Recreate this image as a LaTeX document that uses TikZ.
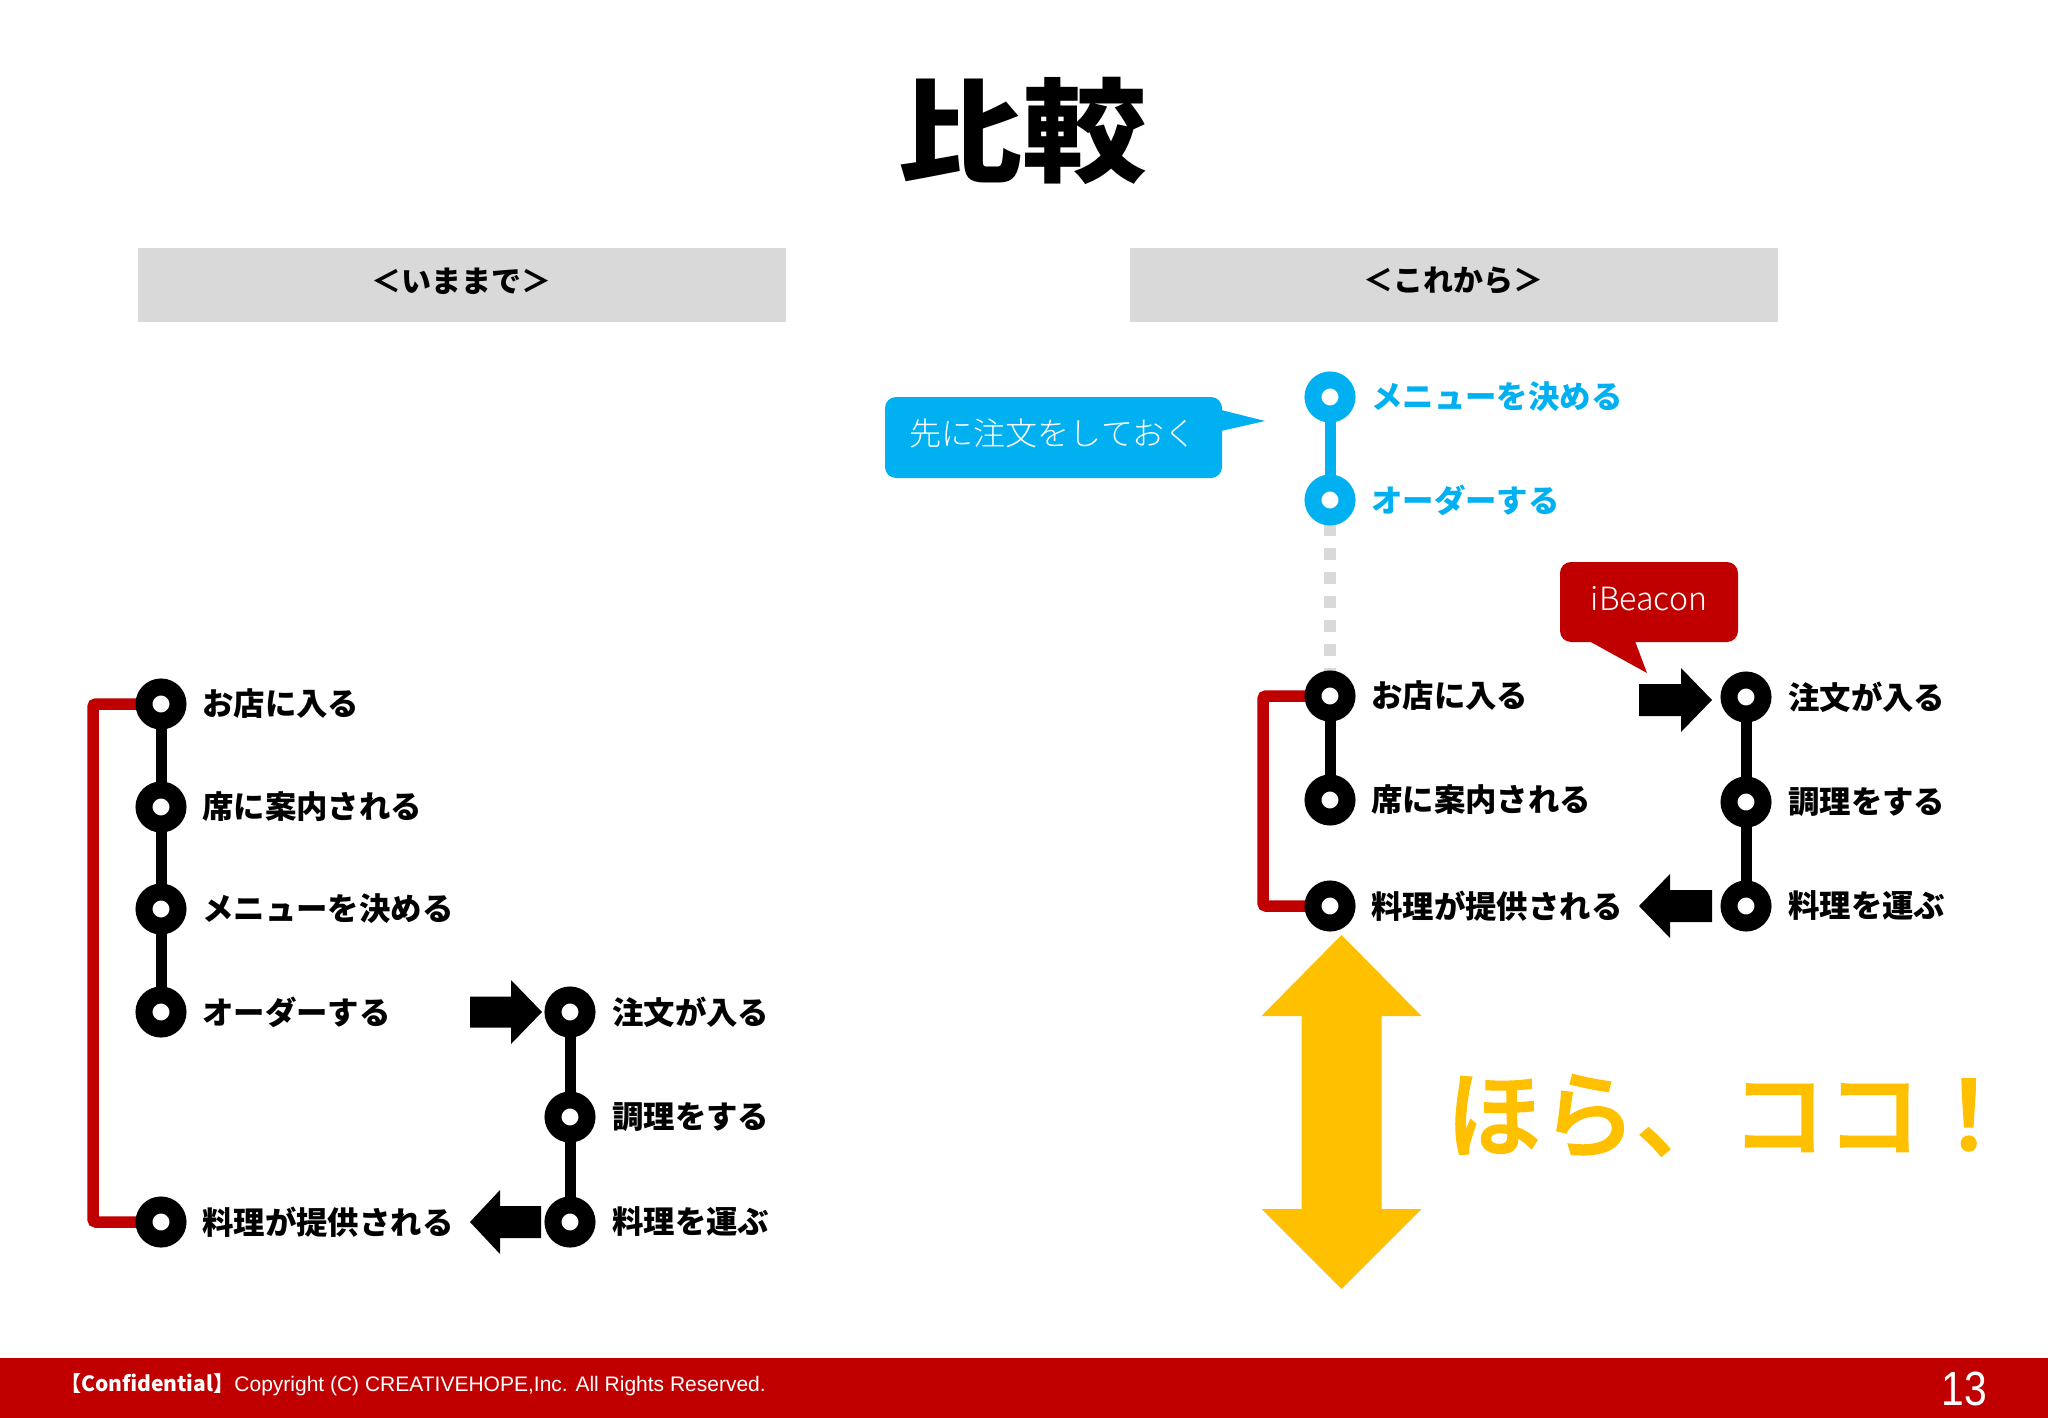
\documentclass[tikz,border=0pt]{standalone}
\usepackage{fontspec}
\setmainfont{Noto Sans CJK JP}
\newfontfamily\jpblack{Noto Sans CJK JP}[UprightFont=* Black,BoldFont=* Black]
\newfontfamily\jpmedium{Noto Sans CJK JP}[UprightFont=* Medium,RawFeature={embolden=2}]
\newfontfamily\jplight{Noto Sans CJK JP}[UprightFont=* Light]
\newfontfamily\arialfont{Liberation Sans}
\definecolor{hdrgray}{HTML}{D9D9D9}
\definecolor{cred}{HTML}{C00000}
\definecolor{cblue}{HTML}{00B0F0}
\definecolor{cgold}{HTML}{FFC000}
\definecolor{dotgray}{HTML}{D9D9DC}
\newcommand{\fs}[1]{\fontsize{#1pt}{#1pt}\selectfont}
\tikzset{
 x=1pt,y=-1pt,
 stationb/.style={circle,draw=black,line width=17pt,fill=white,minimum size=34pt,inner sep=0pt},
 stationc/.style={stationb,draw=cblue},
 lab/.style={anchor=west,inner sep=0pt,font=\fs{31.4}\bfseries,text=black},
 labc/.style={lab,text=cblue},
 trackb/.style={line width=11pt,black},
 trackc/.style={line width=11pt,cblue},
 trackr/.style={line width=11.5pt,cred,rounded corners=3pt},
 trackd/.style={line width=12pt,dotgray,dash pattern=on 12pt off 12pt},
 hdr/.style={fill=hdrgray,draw=none,minimum width=648pt,minimum height=74pt,inner sep=0pt},
 hdrtxt/.style={font=\fs{30}\bfseries,text=black,inner sep=0pt},
 flow/.style={fill=black,draw=none},
 calltxt/.style={text=white,font=\fs{32}\jplight,inner sep=0pt}
}
\begin{document}
\begin{tikzpicture}
\useasboundingbox (0,0) rectangle (2048,1418);
\fill[white] (0,0) rectangle (2048,1418);
% title
\node[inner sep=0pt,font=\fs{125}\jpblack,text=black] (title) at (1022,131) {\scalebox{1}[0.9]{比較}};
% headers
\node[hdr] (hl) at (462,285) {};
\node[hdr] (hr) at (1454,285) {};
\node[hdrtxt] (hlt) at (461,281) {＜いままで＞};
\node[hdrtxt] (hrt) at (1453,281) {＜これから＞};
% left coordinates
\coordinate (La) at (161,704);
\coordinate (Lb) at (161,807);
\coordinate (Lc) at (161,909);
\coordinate (Ld) at (161,1012);
\coordinate (Le) at (161,1222);
\coordinate (Lf) at (570,1012);
\coordinate (Lg) at (570,1117);
\coordinate (Lh) at (570,1222);
\draw[trackr] (La) -- (93,704) -- (93,1222) -- (Le);
\draw[trackb] (La) -- (Ld);
\draw[trackb] (Lf) -- (Lh);
\node[stationb] (la) at (La) {};
\node[stationb] (lb) at (Lb) {};
\node[stationb] (lc) at (Lc) {};
\node[stationb] (ld) at (Ld) {};
\node[stationb] (le) at (Le) {};
\node[stationb] (lf) at (Lf) {};
\node[stationb] (lg) at (Lg) {};
\node[stationb] (lh) at (Lh) {};
\node[lab] (lta) at (202,704) {お店に入る};
\node[lab] (ltb) at (202,807) {席に案内される};
\node[lab] (ltc) at (202,909) {メニューを決める};
\node[lab] (ltd) at (202,1012) {オーダーする};
\node[lab] (lte) at (202,1222) {料理が提供される};
\node[lab] (ltf) at (612,1012) {注文が入る};
\node[lab] (ltg) at (612,1117) {調理をする};
\node[lab] (lth) at (612,1222) {料理を運ぶ};
\fill[flow] (470,996.5) -- (511,996.5) -- (511,980) -- (542,1012) -- (511,1044) -- (511,1027.5) -- (470,1027.5) -- cycle;
\fill[flow] (541,1206) -- (500,1206) -- (500,1190) -- (470,1222) -- (500,1254) -- (500,1238) -- (541,1238) -- cycle;
% right coordinates
\coordinate (Ra) at (1330,397);
\coordinate (Rb) at (1330,500);
\coordinate (Rc) at (1330,696);
\coordinate (Rd) at (1330,800);
\coordinate (Re) at (1330,906);
\coordinate (Rf) at (1746,697);
\coordinate (Rg) at (1746,802);
\coordinate (Rh) at (1746,906);
\draw[trackd] (Rb) -- (Rc);
\draw[trackc] (Ra) -- (Rb);
\draw[trackr] (Rc) -- (1263,696) -- (1263,906) -- (Re);
\draw[trackb] (Rc) -- (Rd);
\draw[trackb] (Rf) -- (Rh);
\node[stationc] (ra) at (Ra) {};
\node[stationc] (rb) at (Rb) {};
\node[stationb] (rc) at (Rc) {};
\node[stationb] (rd) at (Rd) {};
\node[stationb] (re) at (Re) {};
\node[stationb] (rf) at (Rf) {};
\node[stationb] (rg) at (Rg) {};
\node[stationb] (rh) at (Rh) {};
\node[labc] (rta) at (1371,397) {メニューを決める};
\node[labc] (rtb) at (1371,500) {オーダーする};
\node[lab] (rtc) at (1371,696) {お店に入る};
\node[lab] (rtd) at (1371,800) {席に案内される};
\node[lab] (rte) at (1371,906) {料理が提供される};
\node[lab] (rtf) at (1788,697) {注文が入る};
\node[lab] (rtg) at (1788,802) {調理をする};
\node[lab] (rth) at (1788,906) {料理を運ぶ};
\fill[flow] (1639,684) -- (1681,684) -- (1681,668) -- (1712,700) -- (1681,732) -- (1681,716) -- (1639,716) -- cycle;
\fill[flow] (1712,890) -- (1670,890) -- (1670,874) -- (1639,906) -- (1670,938) -- (1670,922) -- (1712,922) -- cycle;
% callouts
\fill[cblue,rounded corners=11pt] (885,397) -- (1222,397) -- (1222,478) -- (885,478) -- cycle;
\fill[cblue] (1221,410) -- (1265,421) -- (1221,431) -- cycle;
\node[calltxt] (ct1) at (1053,433) {先に注文をしておく};
\fill[cred,rounded corners=11pt] (1560,562) -- (1738,562) -- (1738,642) -- (1560,642) -- cycle;
\fill[cred] (1589,641) -- (1647,673) -- (1635,641) -- cycle;
\node[calltxt] (ct2) at (1649,599) {iBeacon};
% gold arrow
\fill[cgold] (1341.5,935) -- (1421.5,1016) -- (1381.5,1016) -- (1381.5,1209) -- (1421.5,1209) -- (1341.5,1289) -- (1261.5,1209) -- (1301.5,1209) -- (1301.5,1016) -- (1261.5,1016) -- cycle;
\node[inner sep=0pt,anchor=west,text=cgold,font=\fs{95}\jpmedium] (hora) at (1446,1116) {ほら、ココ！};
% footer
\fill[cred] (0,1358) rectangle (2048,1418);
\node[inner sep=0pt,anchor=west,text=white,font=\fs{21}] (foot) at (60,1385) {\textbf{【Confidential】}\arialfont Copyright (C) CREATIVEHOPE,Inc. All Rights Reserved.};
\node[inner sep=0pt,text=white,font=\fs{48}\arialfont] (pg) at (1964,1389) {\scalebox{0.85}[1]{13}};
\end{tikzpicture}
\end{document}
